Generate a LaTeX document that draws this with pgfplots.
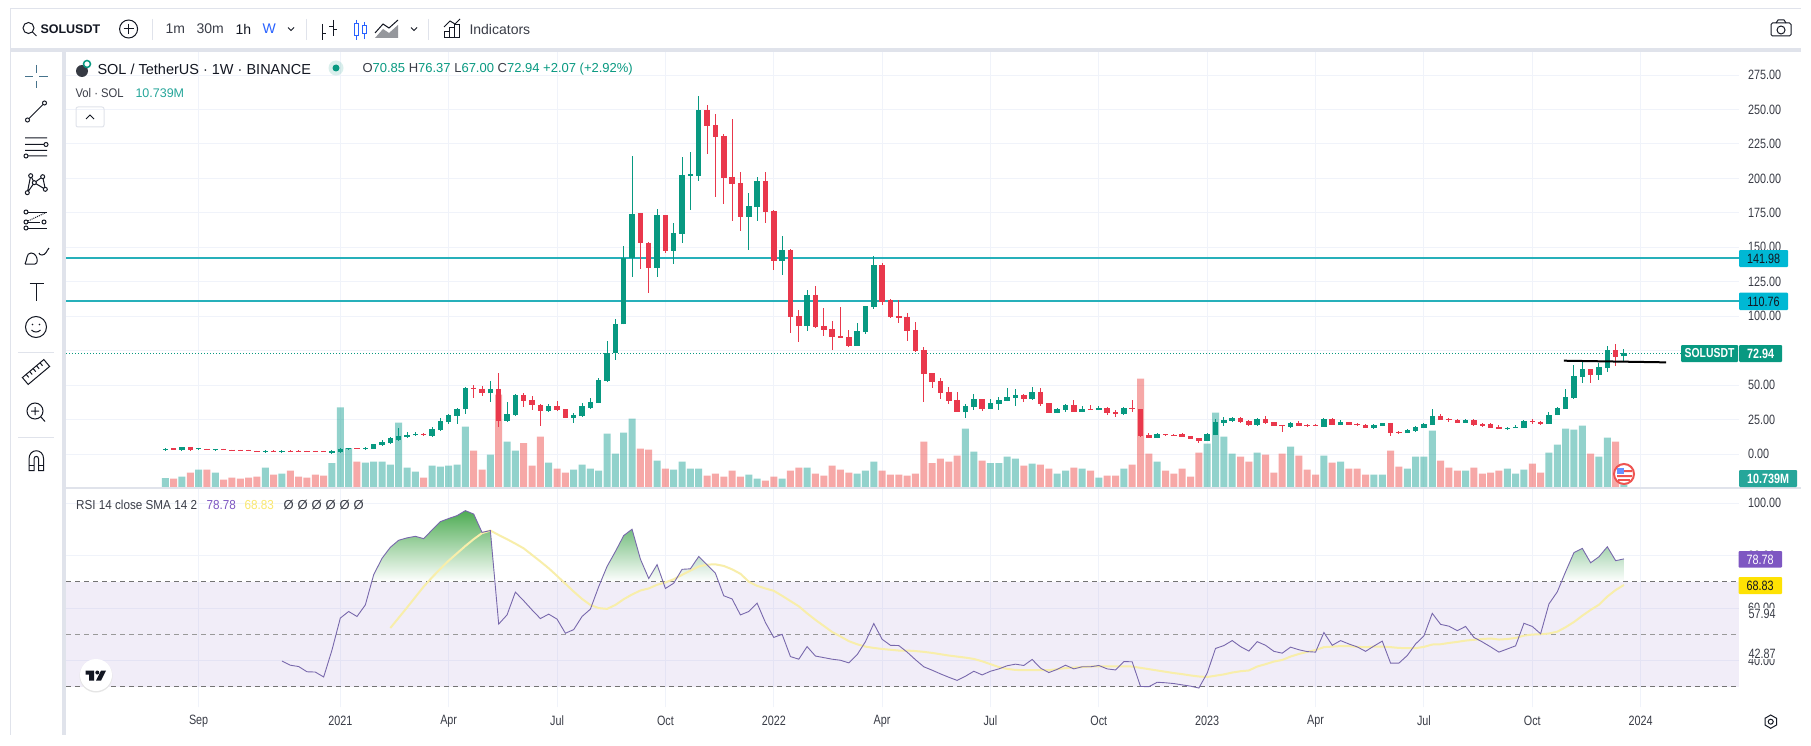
\documentclass[border=0pt]{standalone}
\usepackage{pgfplots}
\pgfplotsset{compat=1.18}
\usepackage{pgfplotstable}
\usepackage{fontspec}
\setmainfont{Liberation Sans}
\newfontfamily\tvnum[FakeStretch=0.8]{Liberation Sans}
\newfontfamily\tvt[FakeStretch=0.9]{Liberation Sans}
\definecolor{cg}{HTML}{089981}
\definecolor{cr}{HTML}{E9384C}
\definecolor{vg}{RGB}{38,166,154}
\definecolor{vr}{RGB}{239,83,80}
\definecolor{gridc}{HTML}{F0F3FA}
\definecolor{paneb}{HTML}{E0E3EB}
\definecolor{txt}{HTML}{3A3D47}
\definecolor{ink}{HTML}{131722}
\definecolor{rsi}{RGB}{120,104,172}
\definecolor{band}{HTML}{7E57C2}
\definecolor{sma}{RGB}{248,238,170}
\definecolor{cyl}{RGB}{38,176,186}
\definecolor{cyb}{RGB}{0,184,212}
\definecolor{blu}{HTML}{2962FF}
\definecolor{gra}{RGB}{78,172,84}
\definecolor{grb}{RGB}{118,190,128}
\definecolor{grc}{RGB}{196,224,204}
\definecolor{grd}{RGB}{166,212,176}
\definecolor{xh}{RGB}{70,115,140}
\definecolor{ylt}{RGB}{250,232,110}

\pgfplotstableread{
i O H L C
0 3.1 4.4 2.9 3.9
2 3.2 5.2 3.0 5.1
4 3.4 4.4 3.1 4.2
6 3.1 3.9 3.0 3.9
12 1.7 2.8 1.5 2.5
14 1.7 2.8 1.5 2.5
20 1.0 2.7 0.7 2.0
21 1.7 4.4 1.5 3.6
22 3.6 4.4 3.4 4.4
24 3.9 4.9 3.6 4.6
25 3.9 6.8 3.9 7.0
26 6.5 9.9 6.3 8.7
27 8.2 12.1 8.0 11.6
28 9.9 18.9 9.4 12.8
29 12.6 16 12.3 13.6
30 13.6 16.2 13.1 14.3
32 13.3 19.4 12.6 18.2
33 17.4 25.9 17.2 24
34 23.2 28.8 21.8 28.3
35 27.8 33.4 21.8 32.4
36 32.4 48.6 29 48.2
39 44 53 37.7 47.2
41 24 37.7 23.5 29
42 28.1 43.3 27.6 42.8
46 31.2 36 30.7 34.8
49 26.1 29.5 22.5 28.3
50 27.3 36.8 26.9 34.6
51 33.6 40.4 32.9 37.5
52 37 54.9 37 53.7
53 53 82 52.3 73
54 73 98 68 94
55 94 151 94 142
56 142 216 128.7 174.2
59 135.2 177.5 128.7 173.4
61 147.3 167.4 138.1 160.4
62 159.9 215.5 153.3 202.5
63 202 219.1 177 203
64 201.7 259.8 198.3 249.6
70 172 189.4 148 180
71 179.2 200.8 169.1 198.1
74 140 158.2 129.9 148
77 92.9 119 89.3 115.4
83 78.4 95 78.4 89.3
84 88.5 107.4 87 107.4
85 106.7 143.7 105.5 137.1
96 30.4 36.2 26.1 34.8
97 34 43.5 31.9 39.9
99 32.6 39.9 32.6 37
100 36.2 41.3 31.9 39.1
101 38.4 47.9 38.4 41.3
102 40.6 47.1 34.8 42.8
104 39.9 48.6 39.1 45
107 29.7 33.3 29.7 32.6
108 32 36.2 30.4 35.5
110 30.4 34.8 30.4 32.6
112 31.9 34.8 31.9 33.3
115 29 34 28.3 33.3
119 11.6 15.2 11.6 14.5
125 9.4 15 9.4 14.5
126 13.7 25.4 13.7 23.2
127 22.5 26.8 20.3 24.6
128 23.9 26.8 23.2 26.1
131 21 26.1 20.3 25.4
135 19.6 23.2 18.8 22.5
139 19.6 26.1 19.6 25.4
141 21 24.6 21 23.2
145 19.1 21.7 18.8 21
146 20.3 22.5 20.3 22.5
149 15.2 18.1 15.2 17.4
150 16.7 20.3 15.9 19.6
151 18.8 22.5 18.8 21.7
152 21 32.6 21 27.5
156 22.5 25.4 22.5 24.6
161 18.1 19.6 17.4 18.8
162 18.8 21 18.8 19.6
163 18.8 24.6 18.8 23.9
166 21.7 30.4 21.7 28.3
167 28.3 34 28.3 33.3
168 32.6 47.1 32.6 41.3
169 40.6 64.6 39.9 56.6
170 55.8 68.2 51.5 61.6
172 57.3 66 53.7 63.1
173 62.4 78.3 59.5 75.4
175 70.85 76.37 67.00 72.94
}\greencandles

\pgfplotstableread{
i O H L C
1 4.0 4.4 2.9 3.2
3 5.1 5.1 2.4 2.9
5 3.8 3.9 3.0 3.0
7 3.8 3.9 3.0 3.1
8 3.2 3.2 2.5 2.5
9 3.0 3.2 2.4 2.4
10 3.0 3.1 2.4 2.4
11 2.2 2.3 1.5 1.5
13 2.4 2.8 1.6 1.7
15 2.4 2.8 1.6 1.7
16 2.4 2.6 1.7 1.8
17 2.3 2.4 1.6 1.7
18 2.3 2.4 1.6 1.7
19 2.3 2.4 1.6 1.7
23 4.3 4.5 3.4 3.6
31 14.5 15 13.1 13.6
37 48.2 49.8 40.7 47.4
38 47.4 49 42.3 44
40 47.2 58.8 19.6 24
43 42.8 44.3 34.1 38.5
44 39.2 42.1 32 35.3
45 35.3 36 20.3 31.2
47 34.8 38.5 31.2 32
48 32.4 32.4 26.1 26.1
57 174.9 174.9 134.5 152.9
58 153.3 153.8 116.6 135.2
60 173.4 173.4 146 147.3
65 249.6 253.3 217.7 238.3
66 238.7 246.7 186.7 230
67 230.8 232.2 181.7 200.5
68 201 243.1 169.3 195.9
69 196.6 204.4 161.8 172
72 198.1 204.4 167.6 175.6
73 176.3 176.8 133.5 140
75 148 148.5 87.8 99.4
76 100.1 104.5 81.3 92.9
78 115.4 121.9 91.4 92.2
79 92.9 105.9 85.6 90
80 90.7 96.5 75.5 84.9
81 85.6 106.7 84 84.2
82 84.9 90 77.6 78.4
86 137.1 138.3 108.1 110.3
87 111.7 112.5 98.7 99.4
88 100.1 111.7 95 98.7
89 99.4 102.3 82 89.3
90 90 95.8 74 74.7
91 75.2 77.4 38 58.3
92 58.7 58.7 48.1 52.4
93 52.9 54.9 39.9 44.2
94 45 48.6 36.5 38.4
95 39.2 45 30.4 30.4
98 39.9 39.9 31.2 32.6
103 42.8 43.5 37.7 39.9
105 45 47.9 34.8 36.2
106 37 37 29.7 29.7
109 35.5 39.1 30.4 30.4
111 32.6 35.5 31.9 31.9
113 33.3 34 28.3 29.7
114 30.4 31.9 26.8 29
116 33.3 39.1 30.4 32.6
117 32.6 32.6 12 13
118 13.7 15.2 11.6 11.6
120 14.5 14.5 13 13.7
121 13.7 14.5 13 13
122 14.2 15.2 12.3 12.5
123 13 13 10.8 10.8
124 11.6 11.6 7.9 9.4
129 26.1 26.8 22.7 23.2
130 23.9 24.6 20.3 21
132 25.4 27.5 21.7 22.5
133 23.2 23.2 20.3 20.3
134 21 21 15.9 20
136 22.5 23.9 20.3 20.3
137 21 21.7 19.6 20.3
138 21 21.7 20.3 20.3
140 25.4 26.1 20.8 21
142 23 23 21 21
143 21.7 22.2 20.3 21
144 21 21.7 18.8 19.1
147 22.5 22.5 13 15.2
148 15.9 16.7 14.5 15.2
153 27.5 29 24.6 24.6
154 25.4 26.1 23.2 24.6
155 24.6 25.4 22.5 22.5
157 24.6 25.4 20.3 21
158 21.7 22.5 19.6 20.3
159 21.7 22.5 18.8 18.8
160 19.6 21 18.1 18.1
164 23.9 25.4 21.7 23.2
165 23.2 23.9 21 21.7
171 61.6 61.6 51.5 57.3
174 75.4 79.8 63.8 70.3
}\redcandles

\pgfplotstableread{
i V
0 30
2 34
4 55
6 46
12 61
14 43
20 75
21 242
22 120
24 76
25 79
26 79
27 70
28 196
29 61
30 49
32 67
33 64
34 67
35 70
36 184
39 100
41 139
42 112
46 76
49 55
50 70
51 58
52 52
53 163
54 103
55 166
56 208
59 82
61 55
62 79
63 58
64 58
70 40
71 28
74 28
77 61
83 43
84 52
85 79
96 178
97 109
99 75
100 75
101 94
102 88
104 73
107 43
108 52
110 58
112 31
115 58
119 79
125 133
126 226
127 154
128 103
131 106
135 124
139 97
141 79
145 40
146 40
149 58
150 94
151 94
152 172
156 52
161 58
162 43
163 55
166 106
167 130
168 178
169 175
170 187
172 94
173 151
175 10.739
}\volgreen

\pgfplotstableread{
i V
1 28
3 46
5 55
7 25
8 31
9 28
10 31
11 34
13 40
15 52
16 34
17 31
18 40
19 37
23 79
31 31
37 112
38 55
40 280
43 135
44 67
45 154
47 58
48 46
57 118
58 115
60 58
65 37
66 43
67 34
68 52
69 34
72 22
73 34
75 52
76 61
78 43
79 37
80 67
81 55
82 46
86 52
87 40
88 40
89 37
90 43
91 139
92 75
93 88
94 79
95 97
98 82
103 67
105 70
106 58
109 61
111 52
113 37
114 37
116 70
117 328
118 103
120 52
121 43
122 58
123 34
124 106
129 94
130 79
132 100
133 46
134 103
136 97
137 55
138 40
140 76
142 58
143 58
144 40
147 112
148 64
153 82
154 61
155 52
157 61
158 43
159 46
160 52
164 73
165 46
171 103
174 139
}\volred

\pgfplotstableread{
i R
14 39.8
15 38.2
16 37.7
17 35.7
18 35.6
19 33.7
20 44
21 56.2
22 58.7
23 56.8
24 61.2
25 72.7
26 79
27 83.2
28 85.9
29 86.8
30 87.4
31 86.5
32 89.8
33 93
34 94.2
35 95.3
36 97.2
37 95.9
38 88.9
39 89.6
40 53.9
41 57.4
42 66.1
43 62.8
44 59.3
45 56
46 57.7
47 55.8
48 50.4
49 51.8
50 56.8
51 59.6
52 68.2
53 75.9
54 81.6
55 87.7
56 90.1
57 78.7
58 71.3
59 76.6
60 67.5
61 69.5
62 74.8
63 75
64 79.7
65 76.5
66 73.3
67 64.7
68 63.5
69 57.4
70 58.7
71 61.9
72 54.5
73 48.8
74 50
75 41.5
76 40.5
77 45.3
78 41.7
79 41.1
80 40.5
81 40.1
82 39.1
83 42.2
84 47.2
85 54.1
86 48.1
87 45.8
88 45.7
89 43.2
90 40.3
91 37.6
92 36.3
93 34.9
94 33.6
95 32.4
96 34
97 35.9
98 34.5
99 35.9
100 36.8
101 38
102 38.6
103 38.1
104 40.4
105 37.1
106 35.4
107 36.6
108 38.2
109 36.8
110 37.6
111 37.6
112 38.1
113 36.8
114 36.4
115 39.6
116 39.5
117 30.1
118 30
119 31.7
120 31.5
121 31.2
122 30.7
123 30.2
124 29.5
125 35.2
126 44.6
127 45.7
128 47.6
129 45.3
130 43.6
131 47.2
132 45.8
133 43.5
134 42.8
135 45.1
136 44.1
137 43.4
138 43.2
139 50.7
140 45.8
141 47.6
142 46.3
143 45.2
144 43.5
145 45.5
146 47.4
147 39
148 39
149 41.9
150 46.3
151 49.4
152 58
153 53.8
154 53.1
155 51.4
156 53
157 48.8
158 47.1
159 45.2
160 43.2
161 44.4
162 45.6
163 54.2
164 53
165 50.2
166 61.6
167 66.2
168 73.9
169 81.2
170 82.8
171 77.3
172 79.6
173 83.4
174 78.1
175 78.78
}\rsitable

\pgfplotstableread{
i S
27 52.4
28 56.3
29 60.2
30 64.2
31 68.2
32 71.7
33 75
34 78.1
35 80.9
36 83.7
37 86.3
38 88.6
39 89.6
40 87.9
41 86.3
42 84.6
43 82.8
44 80.3
45 77.8
46 75.2
47 72.3
48 69.3
49 66.3
50 63.5
51 61.2
52 60
53 59.7
54 61.2
55 63.4
56 65.2
57 66.7
58 67.5
59 68.9
60 69.8
61 71
62 72.7
63 74.3
64 75.9
65 76.6
66 76.7
67 76.1
68 74.8
69 73.1
70 70.1
71 68.5
72 67.5
73 66.6
74 64.7
75 62.7
76 60.7
77 58
78 55.5
79 53.2
80 50.9
81 49.2
82 47.4
83 46.2
84 45.3
85 44.8
86 44.4
87 44.1
88 43.8
89 43.8
90 43.6
91 43.3
92 42.9
93 42.4
94 41.9
95 41.5
96 41.1
97 40.6
98 39.7
99 38.6
100 37.5
101 36.8
102 36.4
103 36.3
104 36.3
105 36.3
106 36.3
107 36.7
108 37.1
109 37.3
110 37.5
111 37.7
112 37.8
113 37.8
114 37.8
115 37.8
116 37.7
117 37.2
118 36.7
119 36.2
120 35.7
121 35.2
122 34.8
123 34.3
124 33.9
125 33.7
126 34.2
127 34.7
128 35.4
129 35.9
130 36.2
131 37.7
132 38.6
133 39.6
134 40.2
135 41.5
136 42.5
137 43.3
138 44
139 45.1
140 45.3
141 45.5
142 45.5
143 45.2
144 45.1
145 45.3
146 45.3
147 45.1
148 44.8
149 44.7
150 44.7
151 45.2
152 46.1
153 46.2
154 46.7
155 47.1
156 47.6
157 47.9
158 48.2
159 48.4
160 48
161 48.2
162 48.6
163 49.5
164 49.9
165 50
166 50.3
167 51
168 52.7
169 54.7
170 57.1
171 59.3
172 61.3
173 64.4
174 66.9
175 68.83
}\smatable

\newcommand\lbl[5][]{\node[anchor=west,inner sep=0pt,text=txt,#1] at (#2,#3) {\fontsize{#4}{#4}\selectfont #5};}
\pgfplotsset{
 tvaxis/.style={scale only axis, width=1673pt, xmin=-11.911, xmax=188.8,
   axis line style={draw=none}, tick style={draw=none}, major tick length=0pt},
 allticks/.style={xtick={4,21,34,47,60,73,86,99,112,125,138,151,164,177}},
}
\begin{document}
\begin{tikzpicture}
\useasboundingbox (0,0) rectangle (1811pt,-746pt);
\fill[white] (0,0) rectangle (1811pt,-746pt);

% price pane: grid and scale
\begin{axis}[tvaxis, allticks, at={(66pt,-488pt)}, anchor=south west, height=436pt,
  ymin=-24.67, ymax=291.7, ytick={0,25,...,275}, xticklabels={},
  grid=major, grid style={gridc,line width=1pt},
  ytick pos=right, yticklabel pos=right,
  yticklabel style={anchor=west,inner sep=0pt,xshift=9pt,text=txt,font=\tvnum\fontsize{13.5}{14}\selectfont,
    /pgf/number format/fixed,/pgf/number format/fixed zerofill,/pgf/number format/precision=2,/pgf/number format/assume math mode=true}]
\addplot[draw=none,forget plot] coordinates {(0,0)(1,1)};
\end{axis}

% volume
\begin{axis}[tvaxis, at={(66pt,-488pt)}, anchor=south west, height=436pt,
  ymin=0, ymax=1308, xtick=\empty, ytick=\empty, ybar, bar width=7pt, bar shift=0pt]
\addplot[fill=vg,draw=none,fill opacity=.5] table[x=i,y=V] {\volgreen};
\addplot[fill=vr,draw=none,fill opacity=.5] table[x=i,y=V] {\volred};
\end{axis}

% candles
\begin{axis}[tvaxis, at={(66pt,-488pt)}, anchor=south west, height=436pt,
  ymin=-24.67, ymax=291.7, xtick=\empty, ytick=\empty]
\addplot[cg,dash pattern=on 1pt off 2pt,line width=.9pt] coordinates {(-11.911,72.94)(188.8,72.94)};
\addplot[cyl,line width=2pt] coordinates {(-11.911,141.98)(188.8,141.98)};
\addplot[cyl,line width=2pt] coordinates {(-11.911,110.76)(188.8,110.76)};
\addplot[draw=none,mark=none,error bars/.cd,y dir=both,y explicit,error mark=none,error bar style={draw=cg,line width=1pt}]
  table[x=i,y=O,y error plus expr=\thisrow{H}-\thisrow{O},y error minus expr=\thisrow{O}-\thisrow{L}] {\greencandles};
\addplot[draw=none,mark=none,error bars/.cd,y dir=both,y explicit,error mark=none,error bar style={draw=cr,line width=1pt}]
  table[x=i,y=O,y error plus expr=\thisrow{H}-\thisrow{O},y error minus expr=\thisrow{O}-\thisrow{L}] {\redcandles};
\addplot[draw=none,mark=none,error bars/.cd,y dir=plus,y explicit,error mark=none,error bar style={draw=cg,line width=5.5pt}]
  table[x=i,y=O,y error plus expr=\thisrow{C}-\thisrow{O}] {\greencandles};
\addplot[draw=none,mark=none,error bars/.cd,y dir=minus,y explicit,error mark=none,error bar style={draw=cr,line width=5.5pt}]
  table[x=i,y=O,y error minus expr=\thisrow{O}-\thisrow{C}] {\redcandles};
\addplot[black,line width=2pt] coordinates {(167.8,67.7)(180.05,66.5)};
\end{axis}

% RSI pane
\begin{axis}[tvaxis, allticks, at={(66pt,-707pt)}, anchor=south west, height=219pt,
  ymin=22.25, ymax=105.84, ytick={40,60,80,100},
  xticklabels={Sep,2021,Apr,Jul,Oct,2022,Apr,Jul,Oct,2023,Apr,Jul,Oct,2024},
  xticklabel style={anchor=center,inner sep=0pt,yshift=-14pt,text=txt,font=\tvnum\fontsize{13.5}{14}\selectfont},
  grid=major, grid style={gridc,line width=1pt},
  ytick pos=right, yticklabel pos=right,
  yticklabel style={anchor=west,inner sep=0pt,xshift=9pt,text=txt,font=\tvnum\fontsize{13.5}{14}\selectfont,
    /pgf/number format/fixed,/pgf/number format/fixed zerofill,/pgf/number format/precision=2,/pgf/number format/assume math mode=true}]
\addplot[fill=band,fill opacity=.1,draw=none] coordinates {(-11.911,30)(188.8,30)(188.8,70)(-11.911,70)} -- cycle;
\addplot[shade,top color=gra,bottom color=white,draw=none] coordinates
 {(24.77,70)(25,72.7)(26,79)(27,83.2)(28,85.9)(29,86.8)(30,87.4)(31,86.5)(32,89.8)(33,93)(34,94.2)(35,95.3)(36,97.2)(37,95.9)(38,88.9)(39,89.6)(39.55,70)} -- cycle;
\addplot[shade,top color=grb,bottom color=white,draw=none] coordinates
 {(52.23,70)(53,75.9)(54,81.6)(55,87.7)(56,90.1)(57,78.7)(58,71.3)(59,76.6)(59.73,70)} -- cycle;
\addplot[shade,top color=grc,bottom color=white,draw=none] coordinates
 {(61.09,70)(62,74.8)(63,75)(64,79.7)(65,76.5)(66,73.3)(66.38,70)} -- cycle;
\addplot[shade,top color=grd,bottom color=white,draw=none] coordinates
 {(167.49,70)(168,73.9)(169,81.2)(170,82.8)(171,77.3)(172,79.6)(173,83.4)(174,78.1)(175,78.78)(175,70)} -- cycle;
\addplot[draw=black!55,dash pattern=on 5pt off 4pt,line width=.9pt] coordinates {(-11.911,70)(188.8,70)};
\addplot[draw=black!40,dash pattern=on 5pt off 4pt,line width=.9pt] coordinates {(-11.911,50)(188.8,50)};
\addplot[draw=black!55,dash pattern=on 5pt off 4pt,line width=.9pt] coordinates {(-11.911,30)(188.8,30)};
\addplot[sma,line width=2pt] table[x=i,y=S] {\smatable};
\addplot[rsi,line width=.9pt] table[x=i,y=R] {\rsitable};
\end{axis}

\begin{scope}[x=1pt,y=-1pt,line width=1pt,draw=ink]
% frame
\fill[paneb] (10,48) rectangle (1801,52);
\fill[paneb] (62,52) rectangle (66,735);
\draw[paneb] (10,9) -- (1801,9);
\draw[paneb] (10,9) -- (10,735);
\draw[paneb,line width=1.5pt] (66,488) -- (1801,488);

% top bar
\draw (28.5,28) circle (5.5); \draw (32.5,32) -- (36.5,36);
\lbl[text=ink]{40}{29}{12.5}{\textbf{SOLUSDT}}
\draw (128.6,29) circle (9); \draw (128.6,24)--(128.6,34) (123.6,29)--(133.6,29);
\foreach \x in {152.7,306,428.6} {\draw[paneb] (\x,19)--(\x,40);}
\lbl{165}{29}{14}{1m}
\lbl{196}{29}{14}{30m}
\lbl[text=ink]{235}{29}{14}{1h}
\lbl[text=blu]{262}{29}{14}{W}
\draw[line width=.8pt] (288,27.5)--(291,30.5)--(294,27.5);
\draw (322,24)--(322,40) (322,34)--(326,34) (333,20)--(333,36) (329,27)--(333,27) (333,30)--(337,30);
\draw[blu] (354,24) rectangle (358,36) (356,20)--(356,24) (356,36)--(356,40) (362,26) rectangle (366,34) (364,22)--(364,26) (364,34)--(364,39);
\fill[ink!45] (375,38)--(383,29)--(389,33)--(398,25)--(398,38)--cycle;
\draw (375,33)--(383,24)--(389,28)--(398,20);
\draw[line width=.8pt] (411,27.5)--(414,30.5)--(417,27.5);
\draw (444,38) rectangle (449,32) (449,38) rectangle (454,28) (454,38) rectangle (459,25);
\draw (444,27)--(450,21)--(455,24)--(460,19);
\lbl{469}{29}{14}{Indicators}
\draw[rounded corners=1.5pt] (1771,23) rectangle (1791,36); \draw (1781,30) circle (4); \draw (1776,23)--(1778,20)--(1784,20)--(1786,23);

% legend
\fill[ink!85] (82,71) circle (6); \draw[cg,line width=1.5pt] (87,64) circle (3.5);
\lbl[text=ink]{97}{69}{14.5}{SOL / TetherUS · 1W · BINANCE}
\fill[cg,opacity=.15] (336,68) circle (7.5); \fill[cg] (336,68) circle (3.5);
\lbl{362}{69}{13}{O\textcolor{cg}{70.85} H\textcolor{cg}{76.37} L\textcolor{cg}{67.00} C\textcolor{cg}{72.94} \textcolor{cg}{+2.07 (+2.92\%)}}
\lbl{75}{93}{12.5}{\tvt Vol · SOL}
\lbl[text=vg]{135}{93}{12.5}{10.739M}
\draw[paneb,rounded corners=2pt] (76,107) rectangle (104,127);
\draw (86,119)--(90,115)--(94,119);

% rsi legend
\lbl{75.6}{505}{13}{\tvt RSI 14 close SMA 14 2}
\lbl[text=band]{206}{505}{13}{\tvt 78.78}
\lbl[text=ylt]{244}{505}{13}{\tvt 68.83}
\foreach \x in {283,297,311,325,339,353} {\lbl{\x}{505}{13}{Ø}}

% tv logo
\fill[black!10] (96,676) circle (16.5);
\fill[white] (96,675) circle (16);
\fill[ink] (85.5,670.5) rectangle (94,674.5) (89,670.5) rectangle (94,680.7) (97.3,672.5) circle (2);
\fill[ink] (96,680.7)--(101,670.5)--(106,670.5)--(101,680.7)--cycle;

% flag
\fill[white] (1624,474) circle (10);
\draw[vr,line width=2pt] (1624,474) circle (10);
\fill[blu!70!white] (1617,468) rectangle (1624,474);
\fill[vr] (1617,475) rectangle (1632,477) (1624,470) rectangle (1632,472) ;
\fill[vr] (1618,479) rectangle (1630,481);

% axis value boxes
\fill[cyb,rounded corners=1pt] (1739,250) rectangle (1788,267);
\node[text=ink,font=\tvnum\fontsize{13.5}{14}\selectfont,inner sep=0pt] at (1763.5,258.5) {141.98};
\fill[cyb,rounded corners=1pt] (1739,292.7) rectangle (1788,310);
\node[text=ink,font=\tvnum\fontsize{13.5}{14}\selectfont,inner sep=0pt] at (1763.5,301.4) {110.76};
\fill[cg,rounded corners=1pt] (1681,345) rectangle (1738,362);
\node[text=white,font=\tvnum\bfseries\fontsize{13}{14}\selectfont,inner sep=0pt] at (1709.5,353.5) {SOLUSDT};
\fill[cg,rounded corners=1pt] (1739,345) rectangle (1782,362);
\node[text=white,font=\tvnum\bfseries\fontsize{13.5}{14}\selectfont,inner sep=0pt] at (1760.5,353.5) {72.94};
\fill[vg,rounded corners=1pt] (1739,470) rectangle (1797,487);
\node[text=white,font=\tvnum\bfseries\fontsize{13.5}{14}\selectfont,inner sep=0pt] at (1768,478.5) {10.739M};
\fill[band,rounded corners=1pt] (1738.5,551) rectangle (1782,567.7);
\node[text=white,font=\tvnum\fontsize{13.5}{14}\selectfont,inner sep=0pt] at (1760,559.5) {78.78};
\fill[yellow!85!orange,rounded corners=1pt] (1738.5,577) rectangle (1782,594);
\node[text=ink,font=\tvnum\fontsize{13.5}{14}\selectfont,inner sep=0pt] at (1760,585.5) {68.83};
\node[anchor=west,fill=white,inner ysep=1pt,inner xsep=1pt,text=txt,font=\tvnum\fontsize{13.5}{14}\selectfont] at (1747,614) {57.94};
\node[anchor=west,fill=white,inner ysep=0.5pt,inner xsep=1pt,text=txt,font=\tvnum\fontsize{13.5}{14}\selectfont] at (1747,654) {42.87};

% settings
\draw (1770.7,715)--(1776.5,718.3)--(1776.5,725)--(1770.7,728.3)--(1765,725)--(1765,718.3)--cycle;
\draw (1770.7,721.7) circle (2.5);

% left tools
\draw[xh] (36,65)--(36,73) (36,81)--(36,88) (25,77)--(33,77) (39,77)--(48,77);
\draw (29,118.5)--(43,104.5) (27.5,120) circle (2) (44.5,103) circle (2);
\draw (25,138)--(47,138) (25,144.5)--(44,144.5) (25,150.5)--(47,150.5) (28,156)--(47,156) (46,144.5) circle (2) (26,156) circle (2);
\draw (27.3,192.7)--(30.7,175.7)--(34.3,182.7)--(42.7,176.7)--(45.3,189.3)--(34.3,182.7)--(27.3,192.7);
\foreach \p in {(27.3,192.7),(30.7,175.7),(42.7,176.7),(45.3,189.3),(34.3,182.7)} {\filldraw[fill=white] \p circle (2);}
\draw (28,212)--(47,212) (28,222)--(40,222) (28,228)--(47,228);
\draw[densely dotted] (28,221)--(45,213);
\foreach \p in {(26,212),(26,222),(44,222),(26,228)} {\filldraw[fill=white] \p circle (2);}
\draw (25,264)--(35,264) to[out=10,in=-60] (36,256) to[out=120,in=0] (31,253) to[out=180,in=60] (25,264);
\draw (39,253) to[out=-90,in=180] (42,255) to[out=0,in=-130] (49,248);
\draw (29.5,283.5)--(44,283.5) (36.5,283.5)--(36.5,300.5);
\draw (36,327) circle (10.5); \fill[ink] (32.5,324.5) circle (.9) (39.5,324.5) circle (.9);
\draw (31.5,330) to[out=-50,in=230] (40.5,330);
\draw[paneb] (18,352)--(54,352) (18,437)--(54,437);
\begin{scope}[shift={(36,372)},rotate=40]
\draw (-14,-4.5) rectangle (14,4.5);
\foreach \x in {-9,-4.5,0,4.5,9} {\draw (\x,-4.5)--(\x,-0.5);}
\end{scope}
\draw (35,411) circle (8) (35,407)--(35,415) (31,411)--(39,411) (41,417)--(45,421.5);
\draw (29,470.5)--(29,459) .. controls (29,448) and (43.6,448) .. (43.6,459) -- (43.6,470.5) -- (38.6,470.5) -- (38.6,459) .. controls (38.6,455.5) and (34,455.5) .. (34,459) -- (34,470.5) -- cycle;
\draw (29,465)--(34,465) (38.6,465)--(43.6,465);
\end{scope}
\end{tikzpicture}
\end{document}
